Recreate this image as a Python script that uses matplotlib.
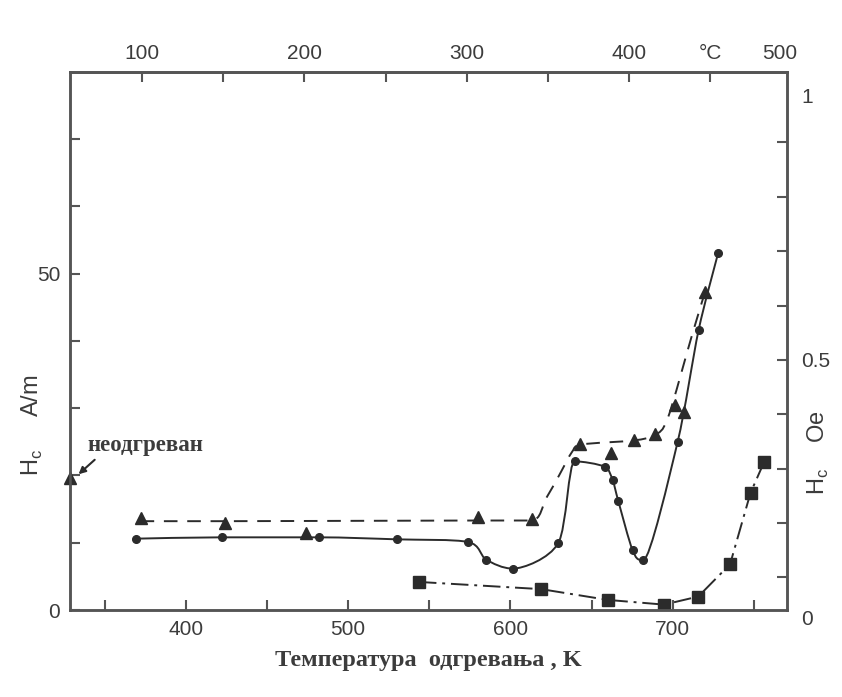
import matplotlib
matplotlib.use("Agg")
import matplotlib.pyplot as plt
from matplotlib.path import Path
from matplotlib.patches import PathPatch
from matplotlib.transforms import offset_copy
import numpy as np

# coercive field vs annealing temperature (K), values in A/m
circle_k = [369, 422, 482, 530, 574, 585, 601.6, 629.4, 639.7, 658, 663, 666.5, 675.3, 682, 703, 716, 728]
circle_h = [10.6, 10.8, 10.8, 10.5, 10.1, 7.5, 6.15, 9.9, 22.1, 21.3, 19.3, 16.2, 8.9, 7.4, 24.9, 41.6, 53.0]

triangle_k = [372, 424, 474, 580, 613, 643, 662, 676, 689, 701.5, 707, 720]
triangle_h = [13.7, 13.0, 11.5, 13.8, 13.5, 24.7, 23.3, 25.3, 26.2, 30.5, 29.5, 47.3]
# dashed guide drawn through the triangle data
guide_k = [372, 425, 580, 613, 622, 630, 638, 644, 676, 689, 697, 712, 720]
guide_h = [13.2, 13.2, 13.3, 13.3, 16.6, 20.0, 23.5, 24.6, 25.2, 26.0, 28.5, 40.9, 47.3]

square_k = [543.6, 619, 660, 694.7, 715.8, 735.4, 748, 756.4]
square_h = [4.17, 3.1, 1.5, 0.8, 2.0, 6.8, 17.4, 22.0]

unannealed_k = 328.5
unannealed_h = 19.6

kelvin_ticks = [350, 400, 450, 500, 550, 600, 650, 700, 750]
kelvin_labels = ["", "400", "", "500", "", "600", "", "700", ""]
celsius_ticks = [100, 150, 200, 250, 300, 350, 400, 450]
celsius_labels = ["100", "", "200", "", "300", "", "400", "°C"]
celsius_end_label = "500"
am_ticks = [0, 10, 20, 30, 40, 50, 60, 70]
am_labels = ["0", "", "", "", "", "50", "", ""]
oe_minor = [0.1, 0.2, 0.3, 0.4, 0.5, 0.6, 0.7, 0.8, 0.9]
oe_major = [0.04, 0.5, 1.0]
oe_labels = ["0", "0.5", "1"]

INK = "#2b2b2b"
AXIS = "#555555"
TEXT = "#3c3c3c"
SANS = ["Liberation Sans", "DejaVu Sans"]
SERIF = ["Liberation Serif", "DejaVu Serif"]

plt.rcParams["font.family"] = SANS
plt.rcParams["mathtext.fontset"] = "custom"
plt.rcParams["mathtext.rm"] = "Liberation Sans"


def smooth_curve(xs, ys, tension=7.0):
    """Bezier path through the points; flat tangents at local extrema."""
    pts = np.column_stack([xs, ys]).astype(float)
    n = len(pts)
    tang = []
    for i in range(n):
        p0 = pts[max(i - 1, 0)]
        p2 = pts[min(i + 1, n - 1)]
        t = (p2 - p0) / tension
        if 0 < i < n - 1 and (pts[i, 1] - p0[1]) * (p2[1] - pts[i, 1]) <= 0:
            t[1] = 0.0
        tang.append(t)
    verts = [pts[0]]
    codes = [Path.MOVETO]
    for i in range(n - 1):
        verts += [pts[i] + tang[i], pts[i + 1] - tang[i + 1], pts[i + 1]]
        codes += [Path.CURVE4] * 3
    return Path(verts, codes)


fig = plt.figure(figsize=(8.42, 6.97), dpi=100)
ax = fig.add_axes([70 / 842, 1 - 610 / 697, 717 / 842, 538.3 / 697])
ax.set_xlim(328.5, 770.5)
ax.set_ylim(0, 80)

for s in ax.spines.values():
    s.set_color(AXIS)
    s.set_linewidth(1.8)

ax.add_patch(PathPatch(smooth_curve(circle_k, circle_h), fill=False, ec=INK, lw=1.4))
ax.plot(circle_k, circle_h, "o", color=INK, ms=5.5)

dashed = PathPatch(smooth_curve(guide_k, guide_h), fill=False, ec=INK, lw=1.4)
dashed.set_linestyle((0, (7, 5)))
ax.add_patch(dashed)
ax.plot(triangle_k, triangle_h, "^", color=INK, ms=9)

ax.plot(square_k, square_h, color=INK, lw=1.4, ls=(0, (9, 3, 1.5, 3)))
ax.plot(square_k, square_h, "s", color=INK, ms=8)

ax.plot([unannealed_k], [unannealed_h], "^", color=INK, ms=9, clip_on=False, zorder=5)
ax.text(339, 24.5, "неодгреван", family=SERIF, weight="bold", fontsize=16.5,
        color=TEXT, ha="left", va="center")
ax.annotate("", xy=(332.5, 19.9), xytext=(345, 22.6),
            arrowprops=dict(arrowstyle="-|>", color=INK, lw=1.5, mutation_scale=10))

ax.set_xticks(kelvin_ticks, labels=kelvin_labels)
ax.set_yticks(am_ticks, labels=am_labels)
ax.tick_params(direction="in", length=7, width=1.5, color=AXIS,
               labelsize=15, labelcolor=TEXT, pad=7)

top = ax.secondary_xaxis("top", functions=(lambda k: k - 273, lambda c: c + 273))
top.set_xticks(celsius_ticks, labels=celsius_labels)
top.tick_params(direction="in", length=7, width=1.5, color=AXIS,
                labelsize=15, labelcolor=TEXT, pad=6)
top.spines["top"].set_color(AXIS)
top.spines["top"].set_linewidth(1.8)
# the last scale value sits on the corner of the frame
ax.text(0.99, 1.0, celsius_end_label, fontsize=15, color=TEXT, ha="center", va="bottom",
        transform=offset_copy(ax.transAxes, fig, y=6, units="points"))

right = ax.twinx()
right.set_ylim(0.04, 1.03)
right.yaxis.remove_overlapping_locs = False
right.set_yticks(oe_major, labels=oe_labels)
right.set_yticks(oe_minor, minor=True)
right.tick_params(which="major", length=0, labelsize=15, labelcolor=TEXT, pad=10)
right.tick_params(which="minor", direction="in", length=7, width=1.5, color=AXIS)
for lab in right.get_yticklabels():
    if lab.get_text() in ("0", "1"):
        lab.set_va("top")
for s in right.spines.values():
    s.set_color(AXIS)
    s.set_linewidth(1.8)

fig.text(32 / 842, 1 - 425 / 697, "H$_{\\mathrm{c}}$     A/m", rotation=90,
         fontsize=17, color=TEXT, ha="center", va="center")
fig.text(818 / 842, 1 - 453 / 697, "H$_{\\mathrm{c}}$    Oe", rotation=90,
         fontsize=17, color=TEXT, ha="center", va="center")
ax.set_xlabel("Температура  одгревања , K", family=SERIF, weight="bold",
              fontsize=17.5, color=TEXT, labelpad=8)

fig.savefig("out.png", dpi=100)
